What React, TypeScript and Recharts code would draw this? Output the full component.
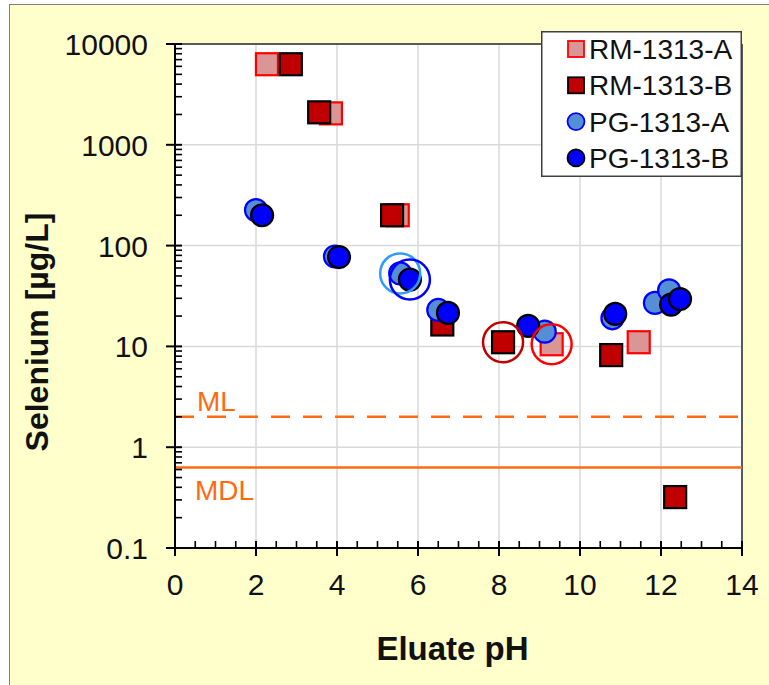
import React from "react";
import { ScatterChart, Scatter, XAxis, YAxis, CartesianGrid, ReferenceLine, Legend } from "recharts";

// eluate pH and selenium concentration [µg/L] per material
const rmA_pH = [2.27, 3.85, 5.5, 9.3, 11.45];
const rmA_se = [6300, 2050, 200, 10.5, 11];
const rmB_pH = [2.86, 3.56, 5.36, 6.6, 8.1, 10.77, 12.35];
const rmB_se = [6300, 2100, 200, 16.5, 11, 8.2, 0.32];
const pgA_pH = [2.0, 3.95, 5.56, 6.5, 9.13, 10.8, 11.85, 12.2];
const pgA_se = [225, 78, 53, 23, 14, 19, 27, 36];
const pgB_pH = [2.15, 4.05, 5.8, 6.74, 8.72, 10.87, 12.25, 12.47];
const pgB_se = [200, 77, 46, 21.5, 16, 21, 26, 29.5];

// circled results (index into each series)
const ringRmA = [3];
const ringRmB = [4];
const ringPgA = [2];
const ringPgB = [2];

const ML = 2;
const MDL = 0.63;

const xMajor = [0, 2, 4, 6, 8, 10, 12, 14];
const yMajor = [0.1, 1, 10, 100, 1000, 10000];

const xTicks: number[] = [];
for (let i = 0; i <= 28; i++) xTicks.push(i / 2);
const yTicks: number[] = [];
for (let e = -1; e < 4; e++) {
  for (let m = 1; m < 10; m++) yTicks.push(m * Math.pow(10, e));
}
yTicks.push(10000);

const xMajorSet = new Set(xMajor);
const yMajorSet = new Set(yMajor);

const FONT = "'Liberation Sans', Arial, sans-serif";
const ORANGE = "#FF6A10";

const zip = (xs: number[], ys: number[]) => xs.map((x, i) => ({ x, y: ys[i] }));
const pick = (xs: number[], ys: number[], idx: number[]) => idx.map((i) => ({ x: xs[i], y: ys[i] }));

const series = [
  { name: "RM-1313-A", data: zip(rmA_pH, rmA_se), kind: "square", fill: "#DA9694", stroke: "#FF0000" },
  { name: "RM-1313-B", data: zip(rmB_pH, rmB_se), kind: "square", fill: "#C00000", stroke: "#000000" },
  { name: "PG-1313-A", data: zip(pgA_pH, pgA_se), kind: "circle", fill: "#558ED5", stroke: "#0000FF" },
  { name: "PG-1313-B", data: zip(pgB_pH, pgB_se), kind: "circle", fill: "#0000FF", stroke: "#000000" },
];

const rings = [
  { data: pick(rmA_pH, rmA_se, ringRmA), color: "#FF0000" },
  { data: pick(rmB_pH, rmB_se, ringRmB), color: "#C00000" },
  { data: pick(pgA_pH, pgA_se, ringPgA), color: "#2E9BFF" },
  { data: pick(pgB_pH, pgB_se, ringPgB), color: "#0000FF" },
];

const markerShape = (kind: string, fill: string, stroke: string) => (props: any) => {
  const { cx, cy } = props;
  if (cx == null || cy == null) return null;
  if (kind === "square") {
    return <rect x={cx - 11} y={cy - 11} width={22} height={22} fill={fill} stroke={stroke} strokeWidth={2.2} />;
  }
  return <circle cx={cx} cy={cy} r={11} fill={fill} stroke={stroke} strokeWidth={2.2} />;
};

const ringShape = (color: string) => (props: any) => {
  const { cx, cy } = props;
  if (cx == null || cy == null) return null;
  return <circle cx={cx} cy={cy} r={20} fill="none" stroke={color} strokeWidth={2.5} />;
};

const renderYTick = (props: any) => {
  const { x, y, payload } = props;
  const v = payload.value;
  if (!yMajorSet.has(v)) {
    return <line x1={x} x2={x + 7} y1={y} y2={y} stroke="#000" strokeWidth={1.6} />;
  }
  return (
    <g>
      <line x1={x - 9} x2={x + 7} y1={y} y2={y} stroke="#000" strokeWidth={2} />
      <text x={x - 27} y={y + 11} textAnchor="end" fontSize={30} fontFamily={FONT} fill="#111">
        {String(v)}
      </text>
    </g>
  );
};

const renderXTick = (props: any) => {
  const { x, y, payload } = props;
  const v = payload.value;
  if (!xMajorSet.has(v)) {
    return <line x1={x} x2={x} y1={y} y2={y - 7} stroke="#000" strokeWidth={1.6} />;
  }
  return (
    <g>
      <line x1={x} x2={x} y1={y - 7} y2={y + 8} stroke="#000" strokeWidth={2} />
      <text x={x} y={y + 47} textAnchor="middle" fontSize={30} fontFamily={FONT} fill="#111">
        {String(v)}
      </text>
    </g>
  );
};

const renderXLabel = (props: any) => {
  const vb = props.viewBox;
  return (
    <text x={vb.x + vb.width / 2 - 6} y={vb.y + 112} textAnchor="middle" fontSize={33} fontWeight="bold" fontFamily={FONT} fill="#111">
      Eluate pH
    </text>
  );
};

const renderYLabel = (props: any) => {
  const vb = props.viewBox;
  const cy = vb.y + vb.height / 2 + 36;
  return (
    <text transform={`translate(48, ${cy}) rotate(-90)`} textAnchor="middle" fontSize={32} fontWeight="bold" fontFamily={FONT} fill="#111">
      Selenium [µg/L]
    </text>
  );
};

const renderMLLabel = (props: any) => {
  const vb = props.viewBox;
  return (
    <text x={vb.x + 22} y={vb.y - 6} fontSize={28} fontFamily={FONT} fill={ORANGE}>
      ML
    </text>
  );
};

const renderMDLLabel = (props: any) => {
  const vb = props.viewBox;
  return (
    <text x={vb.x + 20} y={vb.y + 33} fontSize={28} fontFamily={FONT} fill={ORANGE}>
      MDL
    </text>
  );
};

const renderLegend = () => (
  <svg width={201} height={146} style={{ display: "block" }}>
    <rect x={0.75} y={0.75} width={199.5} height={144.5} fill="#fff" stroke="#404040" strokeWidth={1.5} />
    {series.map((s, i) => {
      const cy = 18 + i * 36.3;
      return (
        <g key={s.name}>
          {s.kind === "square" ? (
            <rect x={27} y={cy - 8} width={16} height={16} fill={s.fill} stroke={s.stroke} strokeWidth={1.8} />
          ) : (
            <circle cx={35} cy={cy} r={8.5} fill={s.fill} stroke={s.stroke} strokeWidth={1.8} />
          )}
          <text x={48} y={cy + 10} fontSize={28} fontFamily={FONT} fill="#111">
            {s.name}
          </text>
        </g>
      );
    })}
  </svg>
);

export default function App() {
  return (
    <div style={{ position: "absolute", left: 0, top: 0, width: 769, height: 685, background: "#fff", overflow: "hidden" }}>
      <div
        style={{
          position: "absolute",
          left: 9,
          top: 4,
          width: 780,
          height: 700,
          background: "#FFFFCC",
          borderLeft: "1.5px solid #7f7f7f",
          borderTop: "1.5px solid #7f7f7f",
        }}
      />
      <div style={{ position: "absolute", left: 0, top: 0 }}>
        <ScatterChart width={769} height={685} margin={{ top: 44, right: 27, bottom: 0, left: 0 }}>
          <CartesianGrid
            fill="#ffffff"
            stroke="#D9D9D9"
            strokeWidth={1.5}
            horizontalValues={yMajor}
            verticalValues={xMajor}
          />
          <XAxis
            type="number"
            dataKey="x"
            domain={[0, 14]}
            ticks={xTicks}
            interval={0}
            allowDataOverflow
            height={137}
            tickSize={0}
            tickMargin={0}
            tickLine={false}
            axisLine={{ stroke: "#000", strokeWidth: 2 }}
            tick={renderXTick}
            label={{ content: renderXLabel }}
          />
          <YAxis
            type="number"
            dataKey="y"
            scale="log"
            domain={[0.1, 10000]}
            ticks={yTicks}
            interval={0}
            allowDataOverflow
            width={175}
            tickSize={0}
            tickMargin={0}
            tickLine={false}
            axisLine={{ stroke: "#000", strokeWidth: 2 }}
            tick={renderYTick}
            label={{ content: renderYLabel }}
          />
          <ReferenceLine y={10000} stroke="#595959" strokeWidth={2} />
          <ReferenceLine x={14} stroke="#595959" strokeWidth={2} />
          <ReferenceLine y={ML} stroke={ORANGE} strokeWidth={2.5} strokeDasharray="19 13" label={{ content: renderMLLabel }} />
          <ReferenceLine y={MDL} stroke={ORANGE} strokeWidth={2.5} label={{ content: renderMDLLabel }} />
          {series.map((s) => (
            <Scatter
              key={s.name}
              name={s.name}
              data={s.data}
              fill={s.fill}
              shape={markerShape(s.kind, s.fill, s.stroke)}
              isAnimationActive={false}
            />
          ))}
          {rings.map((r, i) => (
            <Scatter
              key={"ring" + i}
              data={r.data}
              fill="none"
              legendType="none"
              shape={ringShape(r.color)}
              isAnimationActive={false}
            />
          ))}
          <Legend
            layout="vertical"
            align="center"
            verticalAlign="middle"
            content={renderLegend}
            wrapperStyle={{ position: "absolute", left: 541, top: 31, width: 201, height: 146 }}
          />
        </ScatterChart>
      </div>
    </div>
  );
}
